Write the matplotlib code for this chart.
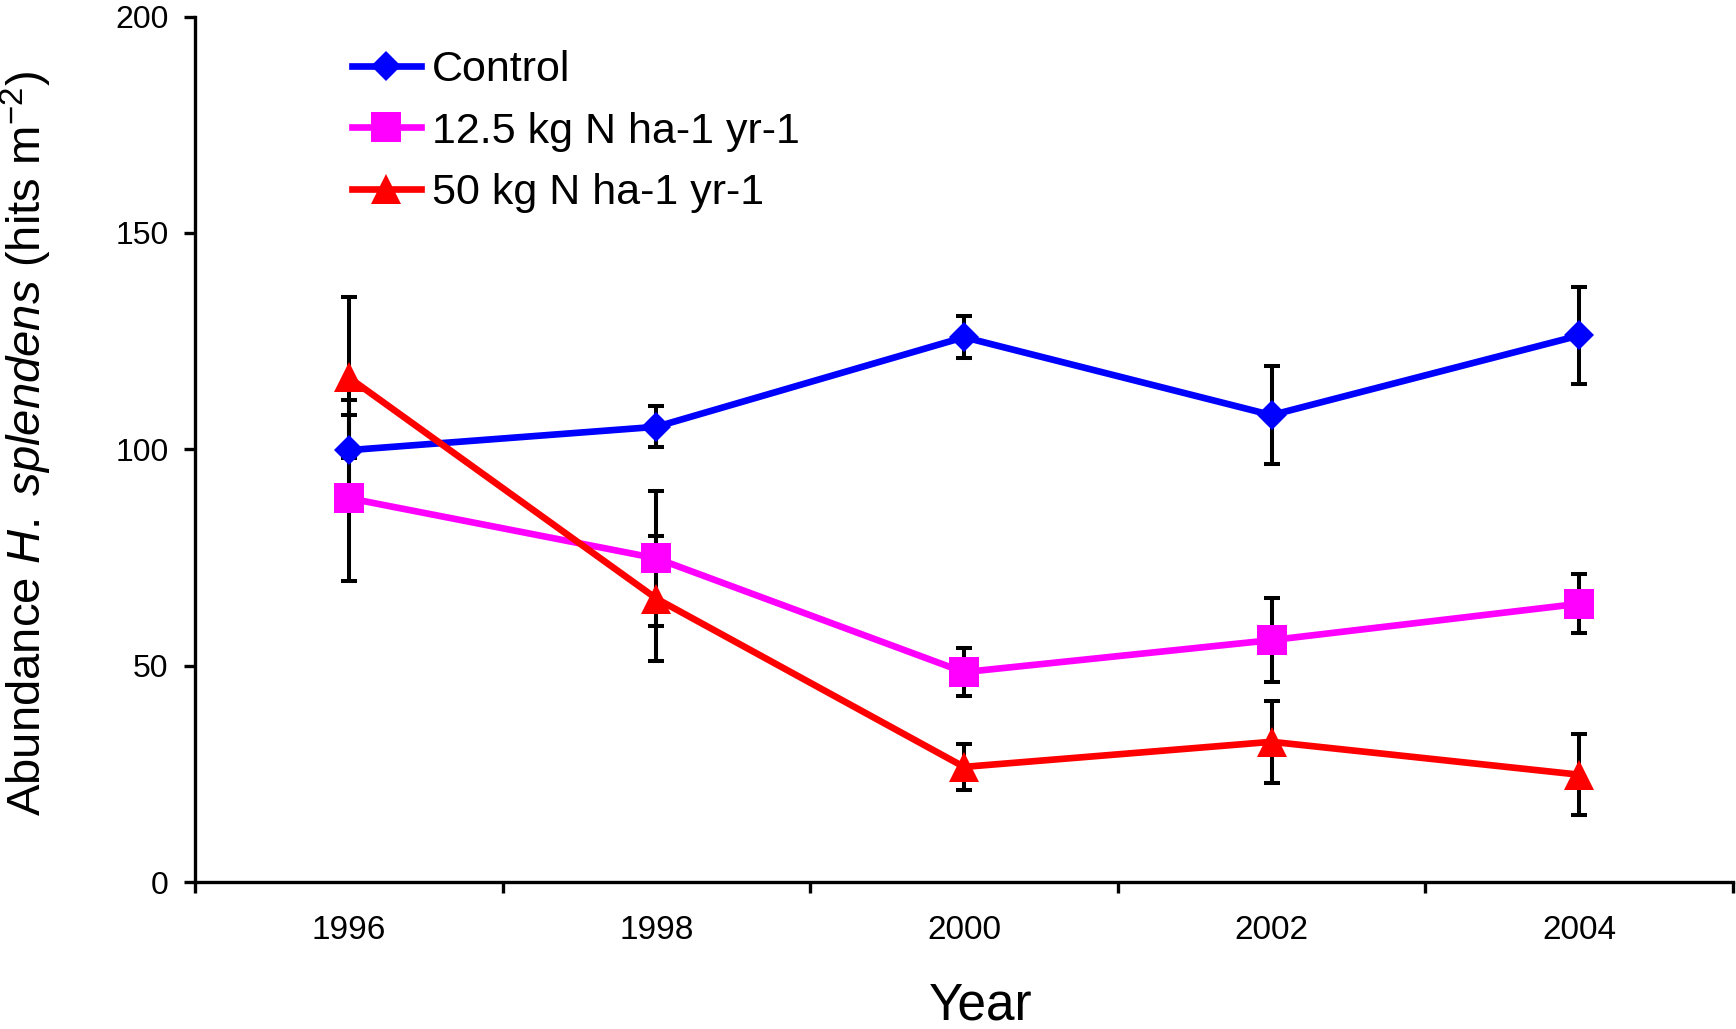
import matplotlib
matplotlib.use("Agg")
import matplotlib.pyplot as plt
import numpy as np

# Data
years = [1996, 1998, 2000, 2002, 2004]
control = [99.8, 105.2, 125.9, 107.9, 126.3]
control_err = [11.5, 4.7, 4.9, 11.3, 11.3]
n125 = [88.7, 74.8, 48.5, 55.9, 64.3]
n125_err = [19.2, 15.6, 5.5, 9.7, 6.8]
n50 = [116.6, 65.5, 26.6, 32.4, 24.8]
n50_err = [18.7, 14.5, 5.4, 9.5, 9.3]
labels = ["Control", "12.5 kg N ha-1 yr-1", "50 kg N ha-1 yr-1"]

plt.rcParams["font.family"] = ["Liberation Sans", "DejaVu Sans"]
plt.rcParams["mathtext.fontset"] = "custom"
plt.rcParams["mathtext.rm"] = "Liberation Sans"
plt.rcParams["mathtext.it"] = "Liberation Sans:italic"

W, H = 1736, 1029
fig = plt.figure(figsize=(W / 100, H / 100), dpi=100)
ax = fig.add_axes([195 / W, 1 - 882 / H, (1733 - 195) / W, (882 - 16.6) / H])

series = [
    (control, control_err, "#0000ff", "D", 15),
    (n125, n125_err, "#ff00ff", "s", 21),
    (n50, n50_err, "#ff0000", "^", 21),
]

# error bars first, lines on top
for vals, err, col, mk, ms in series:
    ax.errorbar(years, vals, yerr=err, fmt="none", ecolor="black",
                elinewidth=2.9, capsize=6, capthick=2.9, zorder=2)
for (vals, err, col, mk, ms), lab in zip(series, labels):
    ax.plot(years, vals, color=col, marker=mk, markersize=ms, lw=4.8,
            markeredgewidth=0, label=lab, zorder=3)

ax.set_xlim(1995, 2005)
ax.set_ylim(0, 200)
ax.set_yticks([0, 50, 100, 150, 200])
ax.set_xticks(np.arange(1995, 2006, 2))
ax.set_xticklabels([])
ax.set_xticks(years, minor=True)
ax.set_xticklabels([str(y) for y in years], minor=True, fontsize=24)
ax.tick_params(axis="x", which="major", direction="out", length=8, width=2.4)
ax.tick_params(axis="x", which="minor", length=0, pad=24)
ax.tick_params(axis="y", direction="out", length=8, width=2.4, labelsize=23, pad=11)

for s in ["top", "right"]:
    ax.spines[s].set_visible(False)
for s in ["left", "bottom"]:
    ax.spines[s].set_linewidth(2.4)

fig.text(981 / W, 1 - 1006 / H, "Year", fontsize=37,
         ha="center", va="center")
fig.text(26 / W, 1 - 444 / H,
         r"Abundance $\mathit{H.}$ $\mathit{splendens}$ (hits m$^{\mathrm{-2}}$)",
         fontsize=34, rotation=90, ha="center", va="center")

ax.legend(loc="upper left", bbox_to_anchor=(352 / W, 1 - 50 / H),
          bbox_transform=fig.transFigure, frameon=False, fontsize=31,
          numpoints=1, handlelength=1.6, handletextpad=0.25,
          labelspacing=0.5, borderpad=0, borderaxespad=0)

fig.savefig("out.png", dpi=100)
